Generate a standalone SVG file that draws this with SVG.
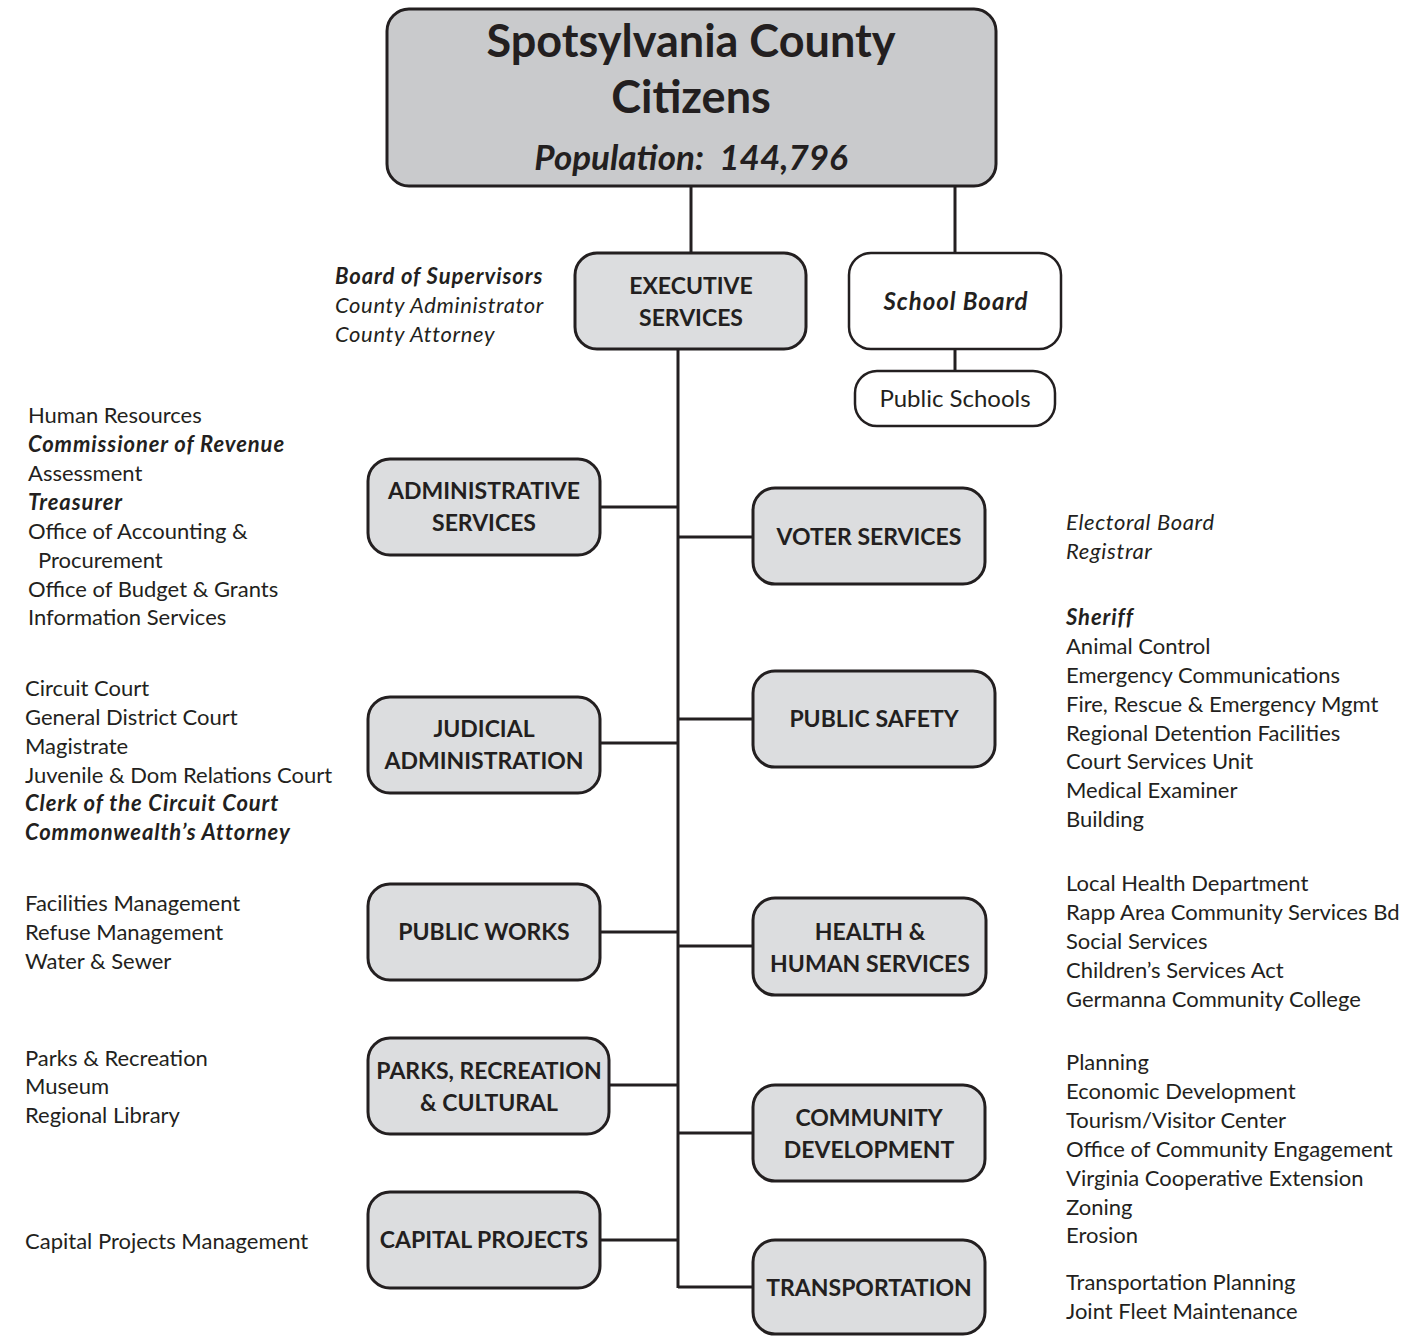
<svg xmlns="http://www.w3.org/2000/svg" width="1419" height="1336" viewBox="0 0 1419 1336">
<style>
text{font-family:Lato,"Open Sans","Liberation Sans",sans-serif;fill:#231f20}
.box{fill:#dcdddf;stroke:#231f20;stroke-width:3}
.wbox{fill:#ffffff;stroke:#231f20;stroke-width:2.5}
.top{fill:#c9cacc;stroke:#231f20;stroke-width:3}
.lbl{font-size:23px;font-weight:bold;text-anchor:middle}
.lst{font-size:22px}
.b{font-weight:bold;font-style:italic;letter-spacing:0.9px}
.i{font-style:italic;letter-spacing:0.65px}
.conn{stroke:#231f20;stroke-width:3;fill:none}
</style>
<rect width="1419" height="1336" fill="#ffffff"/>
<g id="connectors">
<line class="conn" x1="691" y1="186" x2="691" y2="253"/>
<line class="conn" x1="955" y1="186" x2="955" y2="253"/>
<line class="conn" x1="955" y1="349" x2="955" y2="371"/>
<line class="conn" x1="678" y1="349" x2="678" y2="1288"/>
<line class="conn" x1="600" y1="507" x2="678" y2="507"/>
<line class="conn" x1="600" y1="743" x2="678" y2="743"/>
<line class="conn" x1="600" y1="932" x2="678" y2="932"/>
<line class="conn" x1="609" y1="1085" x2="678" y2="1085"/>
<line class="conn" x1="600" y1="1240" x2="678" y2="1240"/>
<line class="conn" x1="678" y1="537" x2="753" y2="537"/>
<line class="conn" x1="678" y1="719" x2="753" y2="719"/>
<line class="conn" x1="678" y1="946" x2="753" y2="946"/>
<line class="conn" x1="678" y1="1133" x2="753" y2="1133"/>
<line class="conn" x1="678" y1="1287" x2="753" y2="1287"/>
</g>
<g id="citizens">
<rect class="top" x="387" y="9" width="609" height="177" rx="22"/>
<text x="691" y="57" text-anchor="middle" font-size="45" font-weight="bold">Spotsylvania County</text>
<text x="691" y="113" text-anchor="middle" font-size="45" font-weight="bold">Citizens</text>
<text x="691" y="170" text-anchor="middle" font-size="35" font-weight="bold" font-style="italic" xml:space="preserve">Population:  144,796</text>
</g>
<g id="executive">
<rect class="box" x="575" y="253" width="231" height="96" rx="22"/>
<text class="lbl" x="691" y="294">EXECUTIVE</text>
<text class="lbl" x="691" y="326">SERVICES</text>
<text class="lst b" x="335" y="284">Board of Supervisors</text>
<text class="lst i" x="335" y="313">County Administrator</text>
<text class="lst i" x="335" y="342">County Attorney</text>
</g>
<g id="school-board">
<rect class="wbox" x="849" y="253" width="212" height="96" rx="22"/>
<text x="956" y="310" text-anchor="middle" font-size="24" font-weight="bold" font-style="italic" letter-spacing="1">School Board</text>
</g>
<g id="public-schools">
<rect class="wbox" x="855" y="371" width="200" height="55" rx="22"/>
<text x="955" y="407" text-anchor="middle" font-size="24">Public Schools</text>
</g>
<g id="administrative">
<rect class="box" x="368" y="459" width="232" height="96" rx="22"/>
<text class="lbl" x="484" y="499">ADMINISTRATIVE</text>
<text class="lbl" x="484" y="531">SERVICES</text>
<text class="lst" x="28" y="423">Human Resources</text>
<text class="lst b" x="28" y="452">Commissioner of Revenue</text>
<text class="lst" x="28" y="481">Assessment</text>
<text class="lst b" x="28" y="510">Treasurer</text>
<text class="lst" x="28" y="539">Office of Accounting &amp;</text>
<text class="lst" x="38" y="568">Procurement</text>
<text class="lst" x="28" y="597">Office of Budget &amp; Grants</text>
<text class="lst" x="28" y="625">Information Services</text>
</g>
<g id="judicial">
<rect class="box" x="368" y="697" width="232" height="96" rx="22"/>
<text class="lbl" x="484" y="737">JUDICIAL</text>
<text class="lbl" x="484" y="769">ADMINISTRATION</text>
<text class="lst" x="25" y="696">Circuit Court</text>
<text class="lst" x="25" y="725">General District Court</text>
<text class="lst" x="25" y="754">Magistrate</text>
<text class="lst" x="25" y="783">Juvenile &amp; Dom Relations Court</text>
<text class="lst b" x="25" y="811">Clerk of the Circuit Court</text>
<text class="lst b" x="25" y="840">Commonwealth’s Attorney</text>
</g>
<g id="public-works">
<rect class="box" x="368" y="884" width="232" height="96" rx="22"/>
<text class="lbl" x="484" y="940">PUBLIC WORKS</text>
<text class="lst" x="25" y="911">Facilities Management</text>
<text class="lst" x="25" y="940">Refuse Management</text>
<text class="lst" x="25" y="969">Water &amp; Sewer</text>
</g>
<g id="parks">
<rect class="box" x="368" y="1038" width="241" height="96" rx="22"/>
<text class="lbl" x="489" y="1079">PARKS, RECREATION</text>
<text class="lbl" x="489" y="1111">&amp; CULTURAL</text>
<text class="lst" x="25" y="1066">Parks &amp; Recreation</text>
<text class="lst" x="25" y="1094">Museum</text>
<text class="lst" x="25" y="1123">Regional Library</text>
</g>
<g id="capital-projects">
<rect class="box" x="368" y="1192" width="232" height="96" rx="22"/>
<text class="lbl" x="484" y="1248">CAPITAL PROJECTS</text>
<text class="lst" x="25" y="1249">Capital Projects Management</text>
</g>
<g id="voter">
<rect class="box" x="753" y="488" width="232" height="96" rx="22"/>
<text class="lbl" x="869" y="545">VOTER SERVICES</text>
<text class="lst i" x="1066" y="530">Electoral Board</text>
<text class="lst i" x="1066" y="559">Registrar</text>
</g>
<g id="public-safety">
<rect class="box" x="753" y="671" width="242" height="96" rx="22"/>
<text class="lbl" x="874" y="727">PUBLIC SAFETY</text>
<text class="lst b" x="1066" y="625">Sheriff</text>
<text class="lst" x="1066" y="654">Animal Control</text>
<text class="lst" x="1066" y="683">Emergency Communications</text>
<text class="lst" x="1066" y="712">Fire, Rescue &amp; Emergency Mgmt</text>
<text class="lst" x="1066" y="741">Regional Detention Facilities</text>
<text class="lst" x="1066" y="769">Court Services Unit</text>
<text class="lst" x="1066" y="798">Medical Examiner</text>
<text class="lst" x="1066" y="827">Building</text>
</g>
<g id="health">
<rect class="box" x="753" y="898" width="233" height="97" rx="22"/>
<text class="lbl" x="870" y="940">HEALTH &amp;</text>
<text class="lbl" x="870" y="972">HUMAN SERVICES</text>
<text class="lst" x="1066" y="891">Local Health Department</text>
<text class="lst" x="1066" y="920">Rapp Area Community Services Bd</text>
<text class="lst" x="1066" y="949">Social Services</text>
<text class="lst" x="1066" y="978">Children’s Services Act</text>
<text class="lst" x="1066" y="1007">Germanna Community College</text>
</g>
<g id="community">
<rect class="box" x="753" y="1085" width="232" height="96" rx="22"/>
<text class="lbl" x="869" y="1126">COMMUNITY</text>
<text class="lbl" x="869" y="1158">DEVELOPMENT</text>
<text class="lst" x="1066" y="1070">Planning</text>
<text class="lst" x="1066" y="1099">Economic Development</text>
<text class="lst" x="1066" y="1128">Tourism/Visitor Center</text>
<text class="lst" x="1066" y="1157">Office of Community Engagement</text>
<text class="lst" x="1066" y="1186">Virginia Cooperative Extension</text>
<text class="lst" x="1066" y="1215">Zoning</text>
<text class="lst" x="1066" y="1243">Erosion</text>
</g>
<g id="transportation">
<rect class="box" x="753" y="1240" width="232" height="94" rx="22"/>
<text class="lbl" x="869" y="1296">TRANSPORTATION</text>
<text class="lst" x="1066" y="1290">Transportation Planning</text>
<text class="lst" x="1066" y="1319">Joint Fleet Maintenance</text>
</g>
</svg>
